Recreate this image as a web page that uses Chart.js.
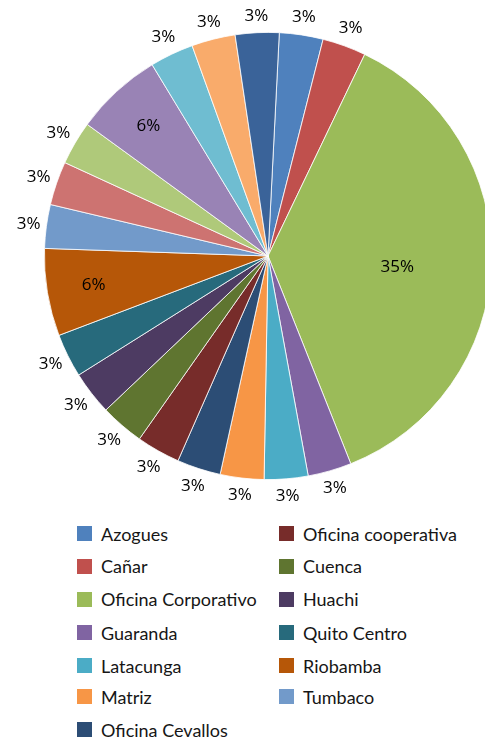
<!DOCTYPE html>
<html>
<head>
<meta charset="utf-8">
<script src="https://cdn.jsdelivr.net/npm/chart.js@4/dist/chart.umd.min.js"></script>
<style>
  html, body { margin: 0; padding: 0; background: #fff; }
  #wrap { position: relative; width: 485px; height: 737px; overflow: hidden; }
  #pie { position: absolute; left: 0; top: 0; }
  .item { position: absolute; display: flex; align-items: center; height: 20px; margin-top: -10px;
          font: 18px Lato, sans-serif; line-height: 1; color: #161616; white-space: nowrap; }
  .swatch { width: 15px; height: 15px; margin-right: 9px; flex: none; }
</style>
</head>
<body>
<div id="wrap">
  <canvas id="pie" width="540" height="512"></canvas>
  <div id="legend"></div>
</div>
<script>
// Categories shown in the legend (the last six slices have no legend entry)
const categories = ['Azogues', 'Cañar', 'Oficina Corporativo', 'Guaranda', 'Latacunga', 'Matriz',
  'Oficina Cevallos', 'Oficina cooperativa', 'Cuenca', 'Huachi', 'Quito Centro', 'Riobamba', 'Tumbaco'];

// Share of each slice, in percent
const values = [3, 3, 35, 3, 3, 3, 3, 3, 3, 3, 3, 6, 3, 3, 3, 6, 3, 3, 3];

const colors = ['#4F81BD', '#C0504D', '#9BBB59', '#8064A2', '#4BACC6', '#F79646', '#2C4D75',
  '#772C2A', '#5F7530', '#4D3B62', '#276A7C', '#B65708', '#729ACA', '#CD7371', '#AFC97A',
  '#9983B5', '#6FBDD1', '#F9AB6B', '#3A6399'];

const labelFont = '17px "Open Sans"';

// percentage labels: big slices inside, the rest just outside the rim
const pieLabels = {
  id: 'pieLabels',
  afterDatasetsDraw(chart) {
    const ctx = chart.ctx;
    const meta = chart.getDatasetMeta(0);
    ctx.save();
    ctx.font = labelFont + ', sans-serif';
    ctx.fillStyle = '#000';
    ctx.textAlign = 'center';
    ctx.textBaseline = 'middle';
    meta.data.forEach((arc, i) => {
      const p = arc.getProps(['x', 'y', 'startAngle', 'endAngle', 'outerRadius'], true);
      const v = values[i];
      const text = v + '%';
      let a = (p.startAngle + p.endAngle) / 2;
      let r;
      if (v >= 6) {
        r = p.outerRadius * (v > 10 ? 0.58 : 0.79);
        if (v > 10) a += 0.05;
      } else {
        const hw = ctx.measureText(text).width / 2;
        r = p.outerRadius + 10 + Math.abs(Math.cos(a)) * hw * 0.6 + Math.abs(Math.sin(a)) * 6.5;
      }
      ctx.fillText(text, p.x + r * Math.cos(a), p.y + r * Math.sin(a));
    });
    ctx.restore();
  }
};

function draw() {
  new Chart(document.getElementById('pie'), {
    type: 'pie',
    data: {
      labels: categories,
      datasets: [{
        data: values,
        backgroundColor: colors,
        borderColor: '#fff',
        borderWidth: 0.8
      }]
    },
    options: {
      responsive: false,
      animation: false,
      rotation: 2.9,
      layout: { padding: { left: 44, top: 32, right: 48, bottom: 32 } },
      plugins: {
        legend: { display: false },
        tooltip: { enabled: false }
      }
    },
    plugins: [pieLabels]
  });
}

document.fonts.load(labelFont).then(draw, draw);

// legend in two columns, filled top to bottom
const legend = document.getElementById('legend');
const rowY = [533.5, 566, 599.2, 632.5, 665.8, 696.5, 729.8];
categories.forEach((name, i) => {
  const col = Math.floor(i / 7), row = i % 7;
  const item = document.createElement('div');
  item.className = 'item';
  item.style.left = (77 + col * 202) + 'px';
  item.style.top = rowY[row] + 'px';
  item.innerHTML = '<span class="swatch" style="background:' + colors[i] + '"></span><span></span>';
  item.lastChild.textContent = name;
  legend.appendChild(item);
});
</script>
</body>
</html>
